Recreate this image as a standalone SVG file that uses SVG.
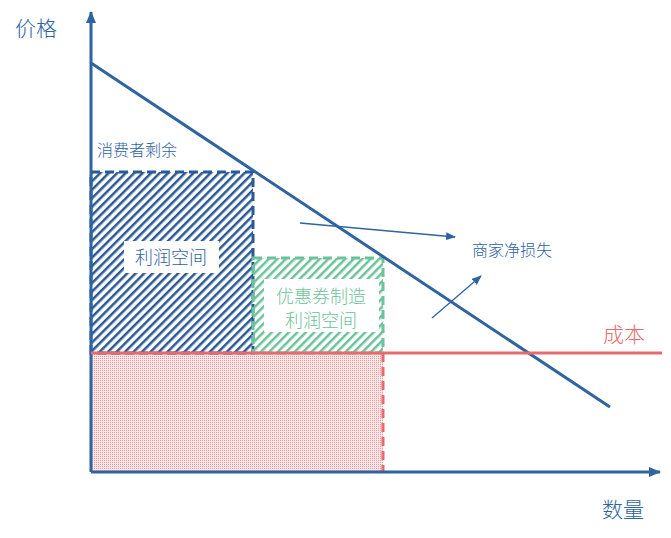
<svg xmlns="http://www.w3.org/2000/svg" width="671" height="538" viewBox="0 0 671 538">
<style>
text{font-family:"Noto Sans CJK SC","Noto Sans",sans-serif;font-weight:300}
.blue{fill:#2e64a0}
</style>
<defs>
<pattern id="hb" width="6" height="6" patternUnits="userSpaceOnUse" patternTransform="rotate(45)"><rect width="2.5" height="6" fill="#2a5a95"/></pattern>
<pattern id="hg" width="6" height="6" patternUnits="userSpaceOnUse" patternTransform="rotate(45)"><rect width="2.5" height="6" fill="#6cc29a"/></pattern>
<pattern id="hr" width="2" height="2" patternUnits="userSpaceOnUse"><rect width="2" height="2" fill="#f9e6e6"/><rect width="1" height="1" fill="#e8999c"/></pattern>
<marker id="ah" markerWidth="10" markerHeight="8" refX="9" refY="4" orient="auto" markerUnits="userSpaceOnUse"><path d="M0,0L10,4L0,8z" fill="#2e64a0"/></marker>
<marker id="ah2" markerWidth="12" markerHeight="10" refX="11" refY="5" orient="auto" markerUnits="userSpaceOnUse"><path d="M0,0L12,5L0,10z" fill="#2e64a0"/></marker>
</defs>
<g id="areas">
<rect x="91" y="353" width="292" height="119" fill="url(#hr)"/>
<rect id="profit" x="91" y="172" width="162" height="181" fill="url(#hb)" stroke="#2a5a95" stroke-width="3" stroke-dasharray="9,5"/>
<rect id="coupon" x="253" y="258" width="130" height="95" fill="url(#hg)" stroke="#6cc29a" stroke-width="3" stroke-dasharray="9,5"/>
<line x1="383" y1="353" x2="383" y2="472" stroke="#e86a6e" stroke-width="3" stroke-dasharray="9,5"/>
<rect x="124" y="241" width="95" height="32" fill="#fff"/>
<rect x="264" y="279" width="115" height="53" fill="#fff"/>
</g>
<g id="connectors" stroke="#2e64a0" fill="none">
<line x1="91" y1="472" x2="91" y2="12" stroke-width="3" marker-end="url(#ah2)"/>
<line x1="91" y1="472" x2="660" y2="472" stroke-width="3" marker-end="url(#ah2)"/>
<line x1="91" y1="63" x2="610" y2="407" stroke-width="3"/>
<line x1="91" y1="353" x2="662" y2="353" stroke="#e86a6e" stroke-width="3"/>
<line x1="300" y1="223" x2="455" y2="237" stroke-width="1.3" marker-end="url(#ah)"/>
<line x1="432" y1="318" x2="481" y2="276" stroke-width="1.3" marker-end="url(#ah)"/>
</g>
<g id="labels">
<text x="15" y="36" font-size="21" class="blue">价格</text>
<text x="602" y="517" font-size="21" class="blue">数量</text>
<text x="97" y="156" font-size="16" class="blue">消费者剩余</text>
<text x="171" y="264" font-size="18" class="blue" text-anchor="middle">利润空间</text>
<text x="321" y="303" font-size="18" fill="#6cc29a" text-anchor="middle">优惠券制造</text>
<text x="321" y="327" font-size="18" fill="#6cc29a" text-anchor="middle">利润空间</text>
<text x="472" y="256" font-size="16" class="blue">商家净损失</text>
<text x="603" y="342" font-size="21" fill="#e86a6e">成本</text>
</g>
</svg>
